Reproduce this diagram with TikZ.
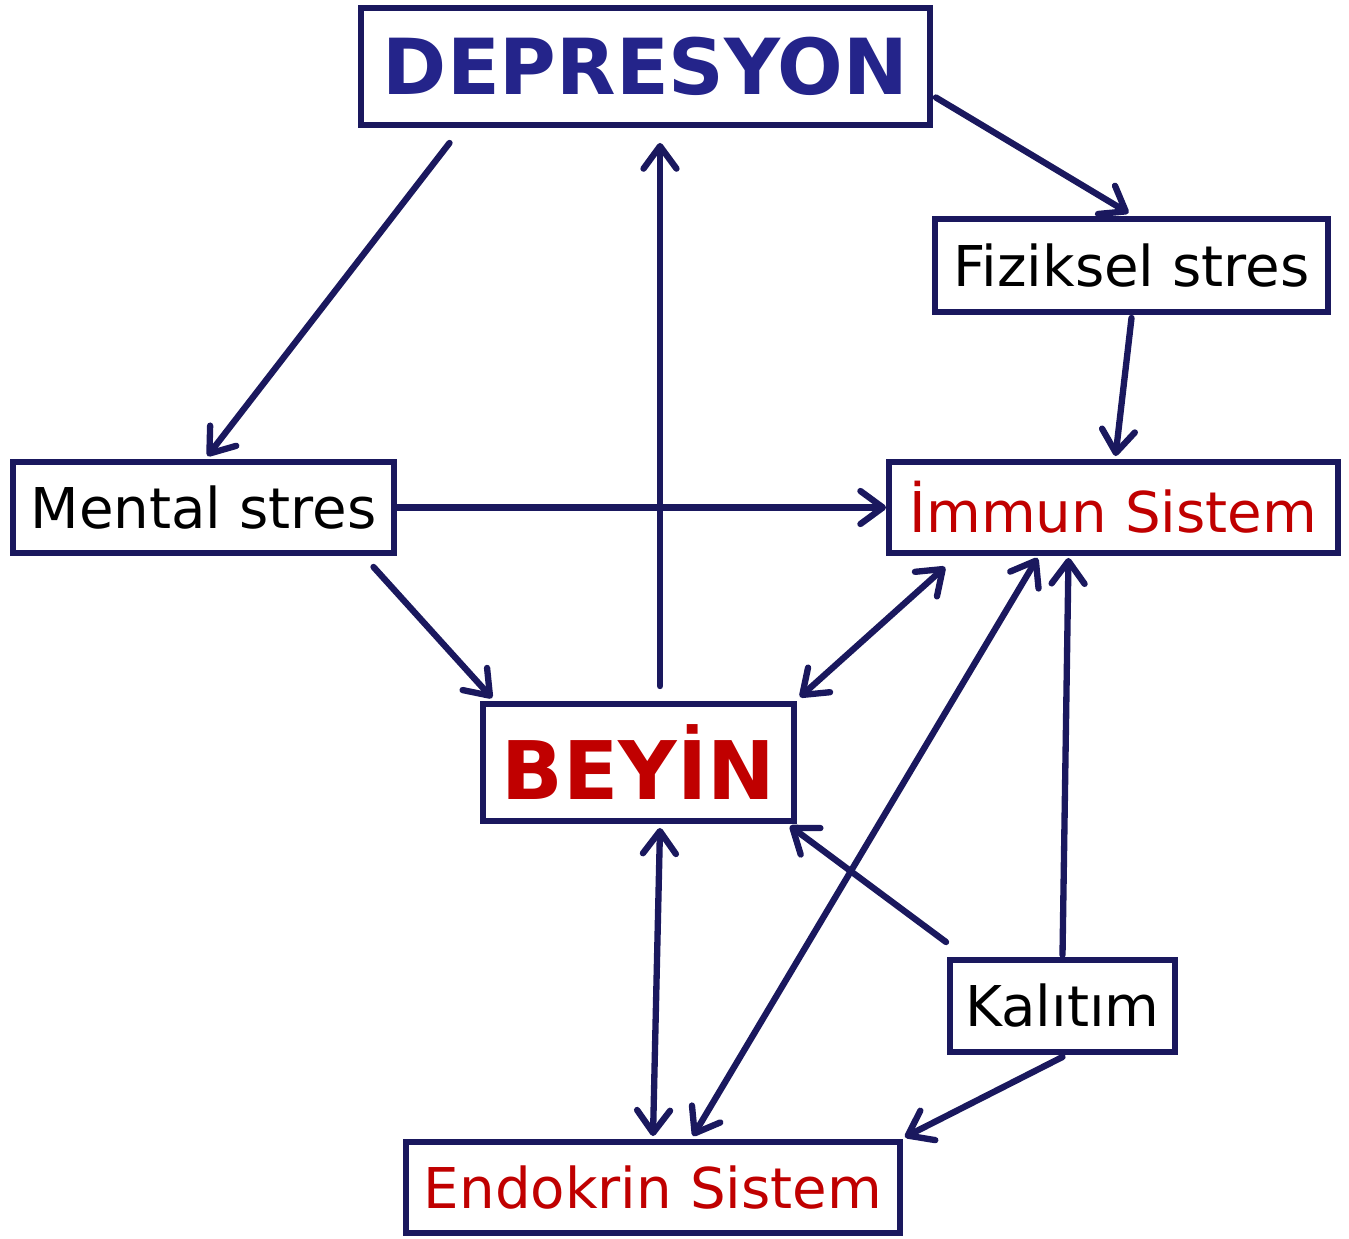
\documentclass[tikz,border=0pt]{standalone}
\usepackage{fontspec}
\setmainfont{DejaVu Sans}
\usepackage{xcolor}
\usetikzlibrary{arrows.meta}

\definecolor{navyline}{RGB}{26,24,94}
\definecolor{navytext}{RGB}{36,36,138}
\definecolor{redtext}{RGB}{192,0,0}

\begin{document}
\begin{tikzpicture}[
    x=0.02cm, y=-0.02cm,
    box/.style={rectangle, draw=navyline, line width=3.4pt, fill=white, inner sep=0pt, align=center, font=\fontsize{32}{38}\selectfont},
    bigbox/.style={box, font=\fontsize{44}{52}\selectfont\bfseries},
    arrow/.style={draw=navyline, line width=3.6pt, line cap=round, -{Straight Barb[length=0.45cm, width=0.66cm, round]}},
    twoway/.style={arrow, {Straight Barb[length=0.45cm, width=0.66cm, round]}-{Straight Barb[length=0.45cm, width=0.66cm, round]}}
]
\useasboundingbox (0,0) rectangle (1349,1238);

\node[bigbox, text=navytext, minimum width=11.38cm, minimum height=2.34cm] (dep) at (645.5,66.5) {DEPRESYON};
\node[box, minimum width=7.86cm, minimum height=1.86cm] (fiz) at (1131.5,265.5) {Fiziksel stres};
\node[box, minimum width=7.62cm, minimum height=1.82cm] (men) at (203.5,507.5) {Mental stres};
\node[box, text=redtext, minimum width=8.98cm, minimum height=1.82cm] (imm) at (1113.5,507.5) {İmmun Sistem};
\node[bigbox, text=redtext, font=\fontsize{46}{54}\selectfont\bfseries, minimum width=6.22cm, minimum height=2.34cm] (bey) at (638.5,762.5) {BEYİN};
\node[box, minimum width=4.5cm, minimum height=1.84cm] (kal) at (1062.5,1006) {Kalıtım};
\node[box, text=redtext, minimum width=9.88cm, minimum height=1.82cm] (end) at (653,1187.5) {Endokrin Sistem};

\draw[arrow] ([shift={(-196,15)}]dep.south) -- ([shift={(4,-3)}]men.north);
\draw[arrow] ([shift={(3,31)}]dep.east) -- ([shift={(-3,-3)}]fiz.north);
\draw[arrow] ([shift={(0,3)}]fiz.south) -- ([shift={(2,-3)}]imm.north);
\draw[arrow] (men.east) -- (imm.west);
\draw[arrow] ([shift={(170,11)}]men.south) -- ([shift={(12,-3)}]bey.north west);
\draw[arrow] ([shift={(21.5,-15)}]bey.north) -- ([shift={(14.5,15)}]dep.south);
\draw[twoway] ([shift={(3,-4)}]bey.north east) -- ([shift={(59,11)}]imm.south west);
\draw[twoway] ([shift={(-76,2)}]imm.south) -- ([shift={(40,-3)}]end.north);
\draw[arrow] ([shift={(0,-2)}]kal.north) -- ([shift={(-45,2)}]imm.south);
\draw[arrow] ([shift={(-1,-15)}]kal.north west) -- ([shift={(-7,2)}]bey.south east);
\draw[arrow] ([shift={(0,2)}]kal.south) -- ([shift={(2,-2)}]end.north east);
\draw[twoway] ([shift={(21.5,4)}]bey.south) -- ([shift={(0,-3)}]end.north);
\end{tikzpicture}
\end{document}
